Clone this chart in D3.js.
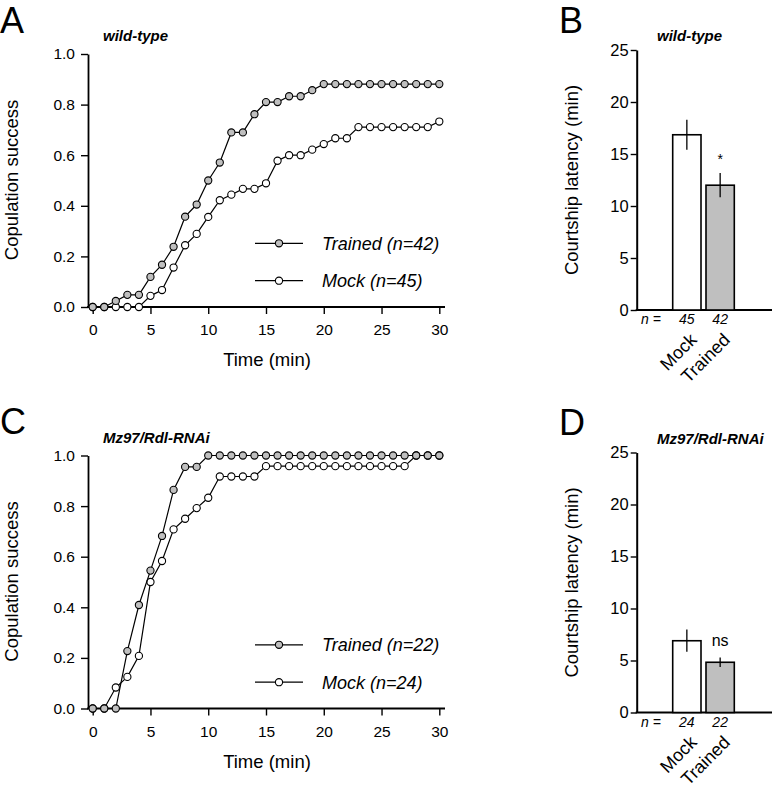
<!DOCTYPE html>
<html><head><meta charset="utf-8">
<script src="https://cdn.jsdelivr.net/npm/d3@7"></script>
<style>
body{margin:0;background:#fff}
text{font-family:"Liberation Sans",Arial,Helvetica,sans-serif;fill:#000}
</style>
</head><body>
<svg id="c" width="772" height="789"></svg>
<script>
// ---------------- data ----------------
const time = [0,1,2,3,4,5,6,7,8,9,10,11,12,13,14,15,16,17,18,19,20,21,22,23,24,25,26,27,28,29,30];
const trainedWT = [0,0,0.024,0.048,0.048,0.119,0.167,0.238,0.357,0.405,0.5,0.571,0.69,0.69,0.762,0.81,0.81,0.833,0.833,0.857,
  0.881,0.881,0.881,0.881,0.881,0.881,0.881,0.881,0.881,0.881,0.881];
const mockWT = [0,0,0,0,0,0.044,0.067,0.156,0.244,0.289,0.356,0.422,0.444,0.467,0.467,0.489,0.578,0.6,0.6,0.622,
  0.644,0.667,0.667,0.711,0.711,0.711,0.711,0.711,0.711,0.711,0.733];
const trainedRNAi = [0,0,0,0.227,0.409,0.545,0.682,0.864,0.955,0.955,
  1,1,1,1,1,1,1,1,1,1,1,1,1,1,1,1,1,1,1,1,1];
const mockRNAi = [0,0,0.083,0.125,0.208,0.5,0.583,0.708,0.75,0.792,0.833,0.917,0.917,0.917,0.917,
  0.958,0.958,0.958,0.958,0.958,0.958,0.958,0.958,0.958,0.958,0.958,0.958,0.958,1,1,1];
const yTicksLine = [0,0.2,0.4,0.6,0.8,1.0];
const xTicksLine = [0,5,10,15,20,25,30];
const legendWT = ["Trained (n=42)","Mock (n=45)"];
const legendRNAi = ["Trained (n=22)","Mock (n=24)"];

const barGroups = ["Mock","Trained"];
const latencyWT = [16.85, 12.0];
const semWT = [1.44, 1.17];
const latencyRNAi = [6.9, 4.83];
const semRNAi = [1.07, 0.46];
const nWT = [45, 42];
const nRNAi = [24, 22];
const yTicksBar = [0,5,10,15,20,25];
const sigLabels = ["*","ns"];

const titles = ["wild-type","Mz97/Rdl-RNAi"];
const panelLetters = ["A","B","C","D"];
const lineYLabel = "Copulation success";
const lineXLabel = "Time (min)";
const barYLabel = "Courtship latency (min)";

// ---------------- drawing ----------------
const svg = d3.select("#c");
const GRAY = "#bfbfbf";

function lineChart(oy, trained, mock, legend, title, letter){
  const g = svg.append("g");
  const x = d3.scaleLinear([0,30],[92.7,439.3]);
  const y = d3.scaleLinear([0,1],[307+oy,54+oy]);
  const ax = 88;

  // y axis
  const ya = g.append("g").attr("transform",`translate(${ax},0)`)
    .call(d3.axisLeft(y).tickValues(yTicksLine).tickFormat(d3.format(".1f")).tickSize(7).tickPadding(6).tickSizeOuter(0));
  ya.select(".domain").attr("stroke-width",1.8);
  ya.selectAll(".tick line").attr("stroke-width",1.4);
  ya.selectAll("text").style("font-size","15.5px").attr("fill","#000");

  // x axis
  const xa = g.append("g").attr("transform",`translate(0,${y(0)})`)
    .call(d3.axisBottom(x).tickValues(xTicksLine).tickSize(7).tickPadding(10));
  xa.select(".domain").remove();
  xa.append("line").attr("x1",ax-0.9).attr("x2",445).attr("y1",0).attr("y2",0)
    .attr("stroke","#000").attr("stroke-width",1.8);
  xa.selectAll(".tick line").attr("stroke-width",1.4);
  xa.selectAll("text").style("font-size","15.5px").attr("fill","#000");

  // labels
  g.append("text").attr("transform",`translate(18,${180+oy}) rotate(-90)`)
    .attr("text-anchor","middle").style("font-size","18.5px").text(lineYLabel);
  g.append("text").attr("x",267).attr("y",366+oy).attr("text-anchor","middle")
    .style("font-size","18.5px").text(lineXLabel);
  g.append("text").attr("x",103).attr("y",41+oy).style("font-size","15px")
    .style("font-weight","bold").style("font-style","italic").text(title);
  g.append("text").attr("x",0).attr("y",32.5+oy).style("font-size","36px").text(letter);

  const line = d3.line().x((d,i)=>x(time[i])).y(d=>y(d));
  const series = [{v:mock,fill:"#fff"},{v:trained,fill:GRAY}];
  series.forEach(s=>{
    g.append("path").datum(s.v).attr("d",line).attr("fill","none")
      .attr("stroke","#000").attr("stroke-width",1.2);
    g.selectAll(null).data(s.v).join("circle")
      .attr("cx",(d,i)=>x(time[i])).attr("cy",d=>y(d)).attr("r",3.6)
      .attr("fill",s.fill).attr("stroke","#000").attr("stroke-width",1.1);
  });

  // legend
  const lg = [{t:legend[0],fill:GRAY,y:243.3+oy},{t:legend[1],fill:"#fff",y:280.7+oy}];
  lg.forEach(l=>{
    g.append("line").attr("x1",255).attr("x2",303).attr("y1",l.y).attr("y2",l.y)
      .attr("stroke","#000").attr("stroke-width",1.2);
    g.append("circle").attr("cx",279).attr("cy",l.y).attr("r",3.6)
      .attr("fill",l.fill).attr("stroke","#000").attr("stroke-width",1.1);
    g.append("text").attr("x",322).attr("y",l.y+6.5).style("font-size","18px")
      .style("font-style","italic").text(l.t);
  });
}

function barChart(oy, means, sems, ns, sig, title, letter){
  const g = svg.append("g");
  const y = d3.scaleLinear([0,25],[310+oy,50+oy]);
  const x = d3.scaleBand(barGroups,[672.7,734.3]).paddingInner(0.15).paddingOuter(0);
  const ax = 636.7;

  const ya = g.append("g").attr("transform",`translate(${ax},0)`)
    .call(d3.axisLeft(y).tickValues(yTicksBar).tickSize(6).tickPadding(2).tickSizeOuter(0));
  ya.select(".domain").attr("stroke-width",2);
  ya.selectAll(".tick line").attr("stroke-width",1.4);
  ya.selectAll("text").style("font-size","16.5px").attr("fill","#000");

  g.append("line").attr("x1",ax-1).attr("x2",772).attr("y1",y(0)).attr("y2",y(0))
    .attr("stroke","#000").attr("stroke-width",2);

  g.selectAll(null).data(means).join("rect")
    .attr("x",(d,i)=>x(barGroups[i])).attr("width",x.bandwidth())
    .attr("y",d=>y(d)).attr("height",d=>y(0)-y(d))
    .attr("fill",(d,i)=>i===0?"#fff":GRAY).attr("stroke","#000").attr("stroke-width",1.6);
  g.selectAll(null).data(means).join("line")
    .attr("x1",(d,i)=>x(barGroups[i])+x.bandwidth()/2).attr("x2",(d,i)=>x(barGroups[i])+x.bandwidth()/2)
    .attr("y1",(d,i)=>y(d+sems[i])).attr("y2",(d,i)=>y(d-sems[i]))
    .attr("stroke","#000").attr("stroke-width",1.3);

  const cT = x("Trained")+x.bandwidth()/2;
  g.append("text").attr("x",cT).attr("y",y(means[1]+sems[1])-(sig==="*"?9:11))
    .attr("text-anchor","middle").style("font-size",sig==="*"?"14px":"16px").text(sig);

  // n labels
  g.append("text").attr("x",651).attr("y",324+oy).attr("text-anchor","middle")
    .style("font-size","14px").style("font-style","italic").text("n =");
  g.selectAll(null).data(ns).join("text")
    .attr("x",(d,i)=>x(barGroups[i])+x.bandwidth()/2).attr("y",324+oy)
    .attr("text-anchor","middle").style("font-size","14px").style("font-style","italic").text(d=>d);

  // category labels
  g.selectAll(null).data(barGroups).join("text")
    .attr("transform",d=>`translate(${x(d)+x.bandwidth()/2+11},${341+oy}) rotate(-45)`)
    .attr("text-anchor","end").style("font-size","18px").text(d=>d);

  g.append("text").attr("transform",`translate(578,${180+oy}) rotate(-90)`)
    .attr("text-anchor","middle").style("font-size","18.5px").text(barYLabel);
  g.append("text").attr("x",657).attr("y",41+oy).style("font-size","15px")
    .style("font-weight","bold").style("font-style","italic").text(title);
  g.append("text").attr("x",559).attr("y",32.5+oy).style("font-size","36px").text(letter);
}

lineChart(0, trainedWT, mockWT, legendWT, titles[0], panelLetters[0]);
barChart(0, latencyWT, semWT, nWT, sigLabels[0], titles[0], panelLetters[1]);
lineChart(401.5, trainedRNAi, mockRNAi, legendRNAi, titles[1], panelLetters[2]);
barChart(402.5, latencyRNAi, semRNAi, nRNAi, sigLabels[1], titles[1], panelLetters[3]);
</script>
</body></html>
